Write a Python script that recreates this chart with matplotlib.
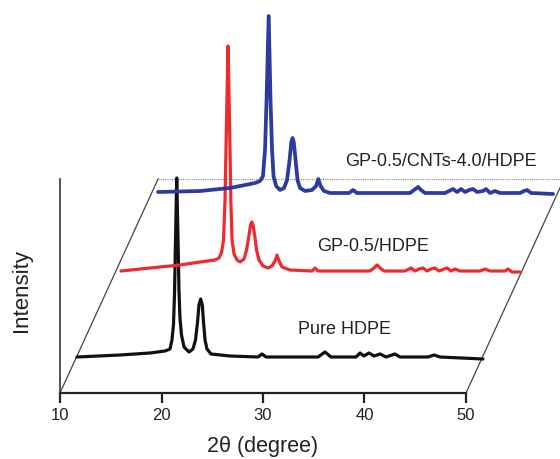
import matplotlib
matplotlib.use("Agg")
import matplotlib.pyplot as plt

plt.rcParams["font.family"] = ["Liberation Sans", "DejaVu Sans"]

# ── XRD patterns (2θ in degrees, intensity in a.u. above each trace's baseline) ──
pure_2theta = [11.67, 15.91, 18.87, 20.34, 20.84, 21.03, 21.18, 21.28, 21.38, 21.50,
               21.63, 21.72, 21.82, 21.97, 22.22, 22.71, 23.10, 23.35, 23.55, 23.69,
               23.86, 24.02, 24.14, 24.29, 24.48, 24.88, 26.75, 29.51, 29.90, 30.30,
               35.42, 36.11, 36.70, 39.16, 39.56, 39.95, 40.44, 40.94, 41.53, 42.12,
               43.00, 43.50, 46.26, 46.85, 47.44, 51.67]
pure_int = [0, 20, 40, 60, 80, 170, 320, 620, 1170, 1790,
            1170, 670, 390, 220, 100, 50, 80, 170, 350, 520,
            580, 520, 350, 170, 80, 30, 10, 0, 30, 0,
            0, 50, 0, 0, 40, 10, 40, 10, 30, 0,
            30, 0, 0, 20, 0, -20]

gp_2theta = [11.08, 13.94, 16.90, 18.87, 20.34, 20.74, 20.99, 21.18, 21.33, 21.48,
             21.63, 21.77, 21.90, 22.02, 22.22, 22.51, 22.81, 23.20, 23.45, 23.65,
             23.84, 23.97, 24.09, 24.29, 24.43, 24.68, 25.07, 25.57, 25.96, 26.26,
             26.45, 26.65, 26.95, 27.73, 29.90, 30.20, 30.49, 35.62, 36.01, 36.31,
             36.60, 37.00, 39.06, 39.66, 40.05, 40.44, 40.84, 41.23, 41.63, 42.02,
             42.41, 42.91, 43.20, 43.60, 43.99, 44.48, 46.45, 46.95, 47.44, 48.92,
             49.21, 49.61, 50.39]
gp_int = [10, 40, 70, 100, 120, 140, 200, 320, 720, 1520,
          2260, 1520, 720, 320, 180, 120, 100, 130, 220, 340,
          470, 500, 470, 340, 220, 120, 60, 40, 60, 110,
          170, 110, 50, 20, 10, 40, 10, 10, 40, 70,
          40, 10, 10, 40, 10, 30, 40, 10, 30, 40,
          10, 30, 40, 10, 30, 10, 10, 30, 10, 10,
          30, 0, 0]

gpcnt_2theta = [10.69, 14.83, 17.78, 20.25, 20.74, 21.03, 21.23, 21.38, 21.59, 21.77,
                21.92, 22.07, 22.32, 22.71, 23.10, 23.40, 23.65, 23.82, 23.94, 24.06,
                24.24, 24.43, 24.68, 25.17, 25.86, 26.26, 26.48, 26.70, 27.04, 27.64,
                29.51, 29.90, 30.30, 35.52, 35.91, 36.31, 36.60, 37.00, 38.97, 39.36,
                39.75, 40.15, 40.54, 40.94, 41.33, 41.72, 42.12, 42.71, 43.00, 43.40,
                43.89, 44.38, 46.35, 46.75, 47.04, 47.44, 49.61]
gpcnt_int = [20, 30, 60, 110, 130, 180, 440, 940, 1780, 940,
             440, 180, 80, 40, 60, 140, 340, 520, 560, 520,
             340, 140, 60, 30, 40, 80, 150, 80, 30, 10,
             10, 40, 10, 10, 40, 70, 40, 10, 10, 30,
             50, 20, 50, 20, 40, 50, 20, 30, 50, 10,
             30, 10, 10, 30, 40, 10, 0]

labels = ["Pure HDPE", "GP-0.5/HDPE", "GP-0.5/CNTs-4.0/HDPE"]
colors = ["#111111", "#ee2a2e", "#2b3c9e"]

# waterfall placement of each trace: (shift along 2θ, vertical offset)
shifts = [0.0, 4.93, 8.97]
offsets = [360, 1210, 1990]
label_pos = [(38.0, 630), (40.8, 1465), (47.5, 2315)]

# depth vector of the pseudo-3D frame
DEPTH_DX, DEPTH_DY = 9.66, 2140

fig = plt.figure(figsize=(5.6, 4.59), dpi=100)
ax = fig.add_axes([60 / 560, 66 / 459, 406 / 560, 393 / 459])
ax.set_xlim(10, 50)
ax.set_ylim(0, 3930)

series = [(pure_2theta, pure_int), (gp_2theta, gp_int), (gpcnt_2theta, gpcnt_int)]
widths = [2.3, 2.3, 2.7]
for (tt, ii), c, dx, dy, lw in zip(series, colors, shifts, offsets, widths):
    ax.plot([t + dx for t in tt], [v + dy for v in ii], color=c, lw=lw,
            solid_joinstyle="round", solid_capstyle="round", clip_on=False, zorder=3)

for lab, (lx, ly) in zip(labels, label_pos):
    ax.text(lx, ly, lab, ha="center", va="center", fontsize=13, color="#222222")

# frame: slanted sides and dotted back edge
x0, x1 = ax.get_xlim()
ax.plot([x0, x0 + DEPTH_DX], [0, DEPTH_DY], color="#444444", lw=0.9, clip_on=False, zorder=2)
ax.plot([x1, x1 + DEPTH_DX], [0, DEPTH_DY], color="#444444", lw=0.9, clip_on=False, zorder=2)
ax.plot([x0 + DEPTH_DX, x1 + DEPTH_DX], [DEPTH_DY, DEPTH_DY], color="#888888", lw=0.8,
        ls=(0, (1, 1)), clip_on=False, zorder=2)

for side in ["top", "right"]:
    ax.spines[side].set_visible(False)
ax.spines["bottom"].set_linewidth(1.6)
ax.spines["bottom"].set_color("#222222")
ax.spines["left"].set_bounds(0, DEPTH_DY)
ax.spines["left"].set_linewidth(1.2)
ax.spines["left"].set_color("#333333")

ax.set_xticks([10, 20, 30, 40, 50])
ax.set_yticks([])
ax.tick_params(axis="x", direction="out", length=7, width=1.6, pad=4,
               labelsize=12, colors="#222222")
ax.patch.set_visible(False)

ax.set_xlabel("2θ (degree)", fontsize=15.5, color="#222222")
ax.xaxis.set_label_coords(0.5, -0.11)
ax.set_ylabel("Intensity", fontsize=16, color="#222222")
ax.yaxis.set_label_coords(-0.07, 0.262)

fig.savefig("out.png", dpi=100)
